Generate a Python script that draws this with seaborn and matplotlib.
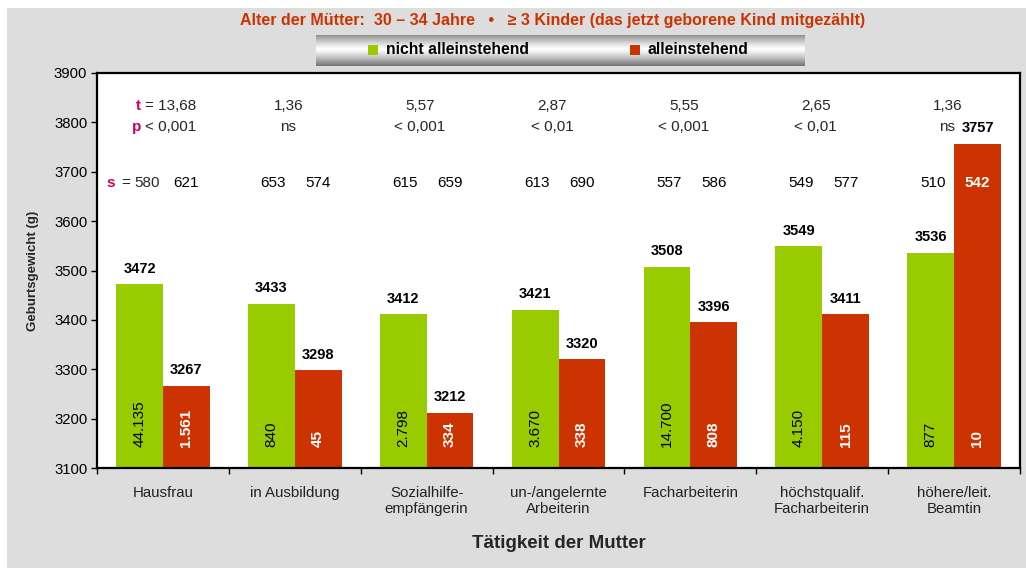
import numpy as np
import pandas as pd
import matplotlib
matplotlib.use("Agg")
import matplotlib.pyplot as plt
from matplotlib.patches import Rectangle
import seaborn as sns

# ---- data ----
categories = ["Hausfrau", "in Ausbildung", "Sozialhilfe-\nempfängerin",
              "un-/angelernte\nArbeiterin", "Facharbeiterin",
              "höchstqualif.\nFacharbeiterin", "höhere/leit.\nBeamtin"]
groups = ["nicht alleinstehend", "alleinstehend"]
weight_not_single = [3472, 3433, 3412, 3421, 3508, 3549, 3536]
weight_single = [3267, 3298, 3212, 3320, 3396, 3411, 3757]
n_not_single = ["44.135", "840", "2.798", "3.670", "14.700", "4.150", "877"]
n_single = ["1.561", "45", "334", "338", "808", "115", "10"]
t_values = ["13,68", "1,36", "5,57", "2,87", "5,55", "2,65", "1,36"]
p_values = ["< 0,001", "ns", "< 0,001", "< 0,01", "< 0,001", "< 0,01", "ns"]
sd_not_single = [580, 653, 615, 613, 557, 549, 510]
sd_single = [621, 574, 659, 690, 586, 577, 542]
y_ticks = [3100, 3200, 3300, 3400, 3500, 3600, 3700, 3800, 3900]

title = "Alter der Mütter:  30 – 34 Jahre   •   ≥ 3 Kinder (das jetzt geborene Kind mitgezählt)"
x_label = "Tätigkeit der Mutter"
y_label = "Geburtsgewicht (g)"

GREEN = "#99cc00"
RED = "#cc3300"
MAGENTA = "#cc0066"
BG = "#dddddd"

sns.set_style("white")
plt.rcParams["font.family"] = ["Liberation Sans", "DejaVu Sans"]

W, H = 1026, 568
fig = plt.figure(figsize=(W / 100, H / 100), dpi=100)
fig.patch.set_facecolor("white")
fig.add_artist(Rectangle((7 / W, 0), 1 - 7 / W, 1 - 8 / H, transform=fig.transFigure,
                         facecolor=BG, edgecolor="none", zorder=-10))

ax = fig.add_axes([97 / W, 1 - 468 / H, (1020 - 97) / W, (468 - 73) / H])
ax.set_facecolor("white")

df = pd.DataFrame({
    "Tätigkeit": categories * 2,
    "Gruppe": [groups[0]] * len(categories) + [groups[1]] * len(categories),
    "Gewicht": weight_not_single + weight_single,
})
sns.barplot(data=df, x="Tätigkeit", y="Gewicht", hue="Gruppe", hue_order=groups,
            palette=[GREEN, RED], width=0.71, gap=0, saturation=1,
            edgecolor="none", linewidth=0, legend=False, ax=ax, errorbar=None)

ax.set_ylim(3100, 3900)
ax.set_xlim(-0.5, len(categories) - 0.5)
ax.set_yticks(y_ticks)
ax.set_yticklabels([str(v) for v in y_ticks])
ax.tick_params(axis="y", direction="out", length=4, width=1, colors="black",
               labelsize=10.7, pad=3, left=True)

# category boundaries carry the tick marks, centres carry the labels
ax.set_xticks(np.arange(-0.5, len(categories)), minor=False)
ax.set_xticklabels([""] * (len(categories) + 1), minor=False)
ax.set_xticks(np.arange(len(categories)), minor=True)
ax.set_xticklabels(categories, minor=True, fontsize=10.8, color="#222222")
ax.tick_params(axis="x", which="major", direction="out", length=4, width=1,
               colors="black", bottom=True)
ax.tick_params(axis="x", which="minor", length=0, pad=13)

for sp in ax.spines.values():
    sp.set_color("black")
    sp.set_linewidth(1.6)

ax.set_xlabel(x_label, fontsize=13.5, fontweight="bold")
ax.xaxis.set_label_coords(0.5, -0.19)
ax.xaxis.label.set_va("center")
ax.set_ylabel(y_label, fontsize=9.5, fontweight="bold")
ax.yaxis.set_label_coords(-0.069, 0.5)
ax.yaxis.label.set_va("center")

green_bars, red_bars = ax.containers[0], ax.containers[1]

# mean values above the bars
for cont in (green_bars, red_bars):
    ax.bar_label(cont, labels=[f"{int(round(b.get_height()))}" for b in cont],
                 padding=6, fontsize=10.5, fontweight="bold", color="black")

# group sizes inside the bars
for i, (gb, rb) in enumerate(zip(green_bars, red_bars)):
    gx = gb.get_x() + gb.get_width() / 2
    rx = rb.get_x() + rb.get_width() / 2
    ax.text(gx, 3142, n_not_single[i], rotation=90, ha="center", va="bottom",
            fontsize=11, color="black")
    ax.text(rx, 3142, n_single[i], rotation=90, ha="center", va="bottom",
            fontsize=11, color="white", fontweight="bold")

# t-test statistics and standard deviations
Y_T, Y_P, Y_S = 3833, 3791, 3677
FS = 11
for i, (gb, rb) in enumerate(zip(green_bars, red_bars)):
    gx = gb.get_x() + gb.get_width() / 2
    rx = rb.get_x() + rb.get_width() / 2
    cx = i
    if i == 0:
        for yv, letter, txt in ((Y_T, "t", "= " + t_values[i]), (Y_P, "p", p_values[i])):
            ax.annotate(txt, (cx, yv), xytext=(-13, 0), textcoords="offset points",
                        ha="left", va="center", fontsize=FS, fontweight="normal")
            ax.annotate(letter, (cx, yv), xytext=(-15.8, 0), textcoords="offset points",
                        ha="right", va="center", fontsize=FS, color=MAGENTA,
                        fontweight="bold")
        ax.annotate("=", (gx, Y_S), xytext=(-7, 0), textcoords="offset points",
                    ha="right", va="center", fontsize=FS, fontweight="normal")
        ax.annotate("s", (gx, Y_S), xytext=(-17.7, 0), textcoords="offset points",
                    ha="right", va="center", fontsize=FS, color=MAGENTA,
                    fontweight="bold")
        ax.annotate(str(sd_not_single[i]), (gx, Y_S), xytext=(5.3, 0),
                    textcoords="offset points", ha="center", va="center",
                    fontsize=FS, fontweight="normal")
    else:
        ax.text(cx - 0.05, Y_T, t_values[i], ha="center", va="center", fontsize=FS,
                fontweight="normal")
        ax.text(cx - 0.05, Y_P, p_values[i], ha="center", va="center", fontsize=FS,
                fontweight="normal")
        ax.text(gx + 0.015, Y_S, str(sd_not_single[i]), ha="center", va="center",
                fontsize=FS, fontweight="normal", color="black")
    red_top = float(rb.get_y() + rb.get_height())
    inside = red_top > Y_S
    ax.text(rx, Y_S, str(sd_single[i]), ha="center", va="center", fontsize=FS,
            color=("white" if inside else "black"),
            fontweight=("bold" if inside else "normal"))

# title
fig.text(553 / W, 1 - 20 / H, title, ha="center", va="center", fontsize=11.5,
         fontweight="bold", color=RED)

# legend band with a metallic vertical gradient
lax = fig.add_axes([316 / W, 1 - 66 / H, (805 - 316) / W, 31 / H])
t = np.linspace(0, 1, 64)
shade = 1.0 - 0.55 * (np.abs(t - 0.45) / 0.55) ** 1.2
lax.imshow(shade[:, None], aspect="auto", cmap="gray", vmin=0, vmax=1,
           extent=(0, 1, 0, 1), interpolation="bilinear")
lax.set_axis_off()

for (x0, x1, txt_x), col, label in (((368, 378, 386), GREEN, groups[0]),
                                    ((630, 640, 648), RED, groups[1])):
    fig.add_artist(Rectangle((x0 / W, 1 - 55 / H), (x1 - x0) / W, 10 / H,
                             transform=fig.transFigure, facecolor=col,
                             edgecolor="none", zorder=5))
    fig.text(txt_x / W, 1 - 50 / H, label, ha="left", va="center", fontsize=11.3,
             fontweight="bold", color="black", zorder=6)

fig.savefig("out.png", dpi=100)
